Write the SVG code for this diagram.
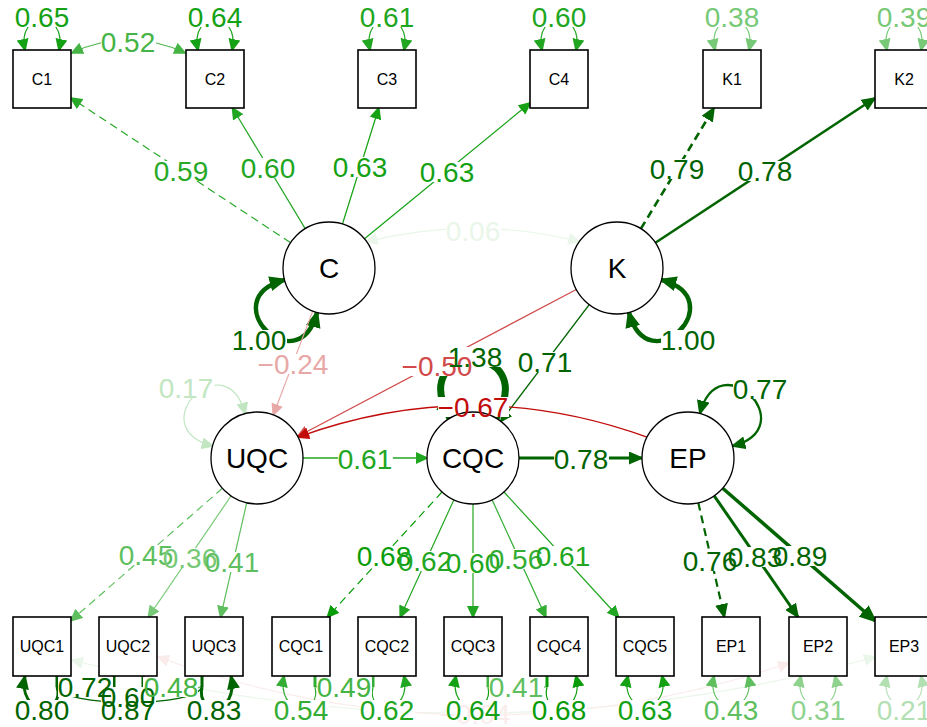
<svg xmlns="http://www.w3.org/2000/svg" width="927" height="727" viewBox="0 0 927 727">
<style>
  .e{fill:none;stroke-width:1.2}
  .d{stroke-dasharray:8,5}
  .bg{fill:#fff}
  .n rect{fill:#fff;stroke:#000;stroke-width:1.6}
  .n circle{fill:#fff;stroke:#000;stroke-width:1.3}
  text{font-family:"Liberation Sans",Arial,Helvetica,sans-serif;text-anchor:middle}
  .bx{font-size:16px;fill:#000}
  .lt{font-size:28px;fill:#000}
  .lb text{font-size:28px}
  .k-dg{stroke:#006400}.f-dg{fill:#006400}
  .k-g68{stroke:#089c08}.f-g68{fill:#089c08}
  .k-g65{stroke:#14a114}.f-g65{fill:#14a114}
  .k-g61{stroke:#21a621}.f-g61{fill:#21a621}
  .k-g59{stroke:#28a928}.f-g59{fill:#28a928}
  .k-g56{stroke:#33ad33}.f-g56{fill:#33ad33}
  .k-g52{stroke:#45b445}.f-g52{fill:#45b445}
  .k-g45{stroke:#5fbf5f}.f-g45{fill:#5fbf5f}
  .k-g38{stroke:#77c977}.f-g38{fill:#77c977}
  .k-g31{stroke:#8ed28e}.f-g31{fill:#8ed28e}
  .k-g21{stroke:#b2e0b2}.f-g21{fill:#b2e0b2}
  .k-g17{stroke:#c1e6c1}.f-g17{fill:#c1e6c1}
  .k-g06{stroke:#e9f6e9}.f-g06{fill:#e9f6e9}
  .k-r67{stroke:#c20b0b}.f-r67{fill:#c20b0b}
  .k-r50{stroke:#d14949}.f-r50{fill:#d14949}
  .k-r24{stroke:#e9a8a8}.f-r24{fill:#e9a8a8}
  .k-r04{stroke:#fbecec}.f-r04{fill:#fbecec}
</style>
<defs>
  <!-- standard arrowheads, one per edge colour -->
  <marker id="s-dg" viewBox="0 0 13 12" refX="11" refY="6" markerWidth="13" markerHeight="12" markerUnits="userSpaceOnUse" orient="auto-start-reverse"><path d="M0,0L13,6L0,12z" class="f-dg"/></marker>
  <marker id="s-g68" viewBox="0 0 13 12" refX="11" refY="6" markerWidth="13" markerHeight="12" markerUnits="userSpaceOnUse" orient="auto-start-reverse"><path d="M0,0L13,6L0,12z" class="f-g68"/></marker>
  <marker id="s-g65" viewBox="0 0 13 12" refX="11" refY="6" markerWidth="13" markerHeight="12" markerUnits="userSpaceOnUse" orient="auto-start-reverse"><path d="M0,0L13,6L0,12z" class="f-g65"/></marker>
  <marker id="s-g61" viewBox="0 0 13 12" refX="11" refY="6" markerWidth="13" markerHeight="12" markerUnits="userSpaceOnUse" orient="auto-start-reverse"><path d="M0,0L13,6L0,12z" class="f-g61"/></marker>
  <marker id="s-g59" viewBox="0 0 13 12" refX="11" refY="6" markerWidth="13" markerHeight="12" markerUnits="userSpaceOnUse" orient="auto-start-reverse"><path d="M0,0L13,6L0,12z" class="f-g59"/></marker>
  <marker id="s-g56" viewBox="0 0 13 12" refX="11" refY="6" markerWidth="13" markerHeight="12" markerUnits="userSpaceOnUse" orient="auto-start-reverse"><path d="M0,0L13,6L0,12z" class="f-g56"/></marker>
  <marker id="s-g52" viewBox="0 0 13 12" refX="11" refY="6" markerWidth="13" markerHeight="12" markerUnits="userSpaceOnUse" orient="auto-start-reverse"><path d="M0,0L13,6L0,12z" class="f-g52"/></marker>
  <marker id="s-g45" viewBox="0 0 13 12" refX="11" refY="6" markerWidth="13" markerHeight="12" markerUnits="userSpaceOnUse" orient="auto-start-reverse"><path d="M0,0L13,6L0,12z" class="f-g45"/></marker>
  <marker id="s-g38" viewBox="0 0 13 12" refX="11" refY="6" markerWidth="13" markerHeight="12" markerUnits="userSpaceOnUse" orient="auto-start-reverse"><path d="M0,0L13,6L0,12z" class="f-g38"/></marker>
  <marker id="s-g31" viewBox="0 0 13 12" refX="11" refY="6" markerWidth="13" markerHeight="12" markerUnits="userSpaceOnUse" orient="auto-start-reverse"><path d="M0,0L13,6L0,12z" class="f-g31"/></marker>
  <marker id="s-g21" viewBox="0 0 13 12" refX="11" refY="6" markerWidth="13" markerHeight="12" markerUnits="userSpaceOnUse" orient="auto-start-reverse"><path d="M0,0L13,6L0,12z" class="f-g21"/></marker>
  <marker id="s-g17" viewBox="0 0 13 12" refX="11" refY="6" markerWidth="13" markerHeight="12" markerUnits="userSpaceOnUse" orient="auto-start-reverse"><path d="M0,0L13,6L0,12z" class="f-g17"/></marker>
  <marker id="s-g06" viewBox="0 0 13 12" refX="11" refY="6" markerWidth="13" markerHeight="12" markerUnits="userSpaceOnUse" orient="auto-start-reverse"><path d="M0,0L13,6L0,12z" class="f-g06"/></marker>
  <marker id="s-r67" viewBox="0 0 13 12" refX="11" refY="6" markerWidth="13" markerHeight="12" markerUnits="userSpaceOnUse" orient="auto-start-reverse"><path d="M0,0L13,6L0,12z" class="f-r67"/></marker>
  <marker id="s-r50" viewBox="0 0 13 12" refX="11" refY="6" markerWidth="13" markerHeight="12" markerUnits="userSpaceOnUse" orient="auto-start-reverse"><path d="M0,0L13,6L0,12z" class="f-r50"/></marker>
  <marker id="s-r24" viewBox="0 0 13 12" refX="11" refY="6" markerWidth="13" markerHeight="12" markerUnits="userSpaceOnUse" orient="auto-start-reverse"><path d="M0,0L13,6L0,12z" class="f-r24"/></marker>
  <marker id="s-r04" viewBox="0 0 13 12" refX="11" refY="6" markerWidth="13" markerHeight="12" markerUnits="userSpaceOnUse" orient="auto-start-reverse"><path d="M0,0L13,6L0,12z" class="f-r04"/></marker>
  <!-- larger heads for the heavy dark-green paths -->
  <marker id="m-dg" viewBox="0 0 15 13" refX="13" refY="6.5" markerWidth="15" markerHeight="13" markerUnits="userSpaceOnUse" orient="auto-start-reverse"><path d="M0,0L15,6.5L0,13z" class="f-dg"/></marker>
  <marker id="l-dg" viewBox="0 0 18 15" refX="15" refY="7.5" markerWidth="18" markerHeight="15" markerUnits="userSpaceOnUse" orient="auto-start-reverse"><path d="M0,0L18,7.5L0,15z" class="f-dg"/></marker>
</defs>

<g id="connectors">
  <!-- faint residual covariances running under the bottom row -->
  <path class="e k-g06" d="M72,660 Q473,768 875,657" marker-start="url(#s-g06)" marker-end="url(#s-g06)"/>
  <path class="e k-r04" d="M158,657 Q473,770 789,663" marker-start="url(#s-r04)" marker-end="url(#s-r04)"/>

  <!-- C indicators -->
  <path class="e d k-g59" d="M290.6,242.7 L71,98" marker-end="url(#s-g59)"/>
  <path class="e k-g61" d="M305.2,228.6 L232.5,108" marker-end="url(#s-g61)"/>
  <path class="e k-g65" d="M342.5,224 L378.7,108" marker-end="url(#s-g65)"/>
  <path class="e k-g65" d="M364.5,238.8 L530,103" marker-end="url(#s-g65)"/>
  <!-- K indicators -->
  <path class="e d k-dg" style="stroke-width:2.6" d="M640.9,228.7 L714,108" marker-end="url(#m-dg)"/>
  <path class="e k-dg" style="stroke-width:2.5" d="M655.4,242.7 L875,98" marker-end="url(#m-dg)"/>
  <!-- C1 with C2 -->
  <path class="e k-g52" d="M72,53 Q128,26 185,53" marker-start="url(#s-g52)" marker-end="url(#s-g52)"/>
  <!-- top residual variances -->
  <path class="e k-g65" d="M25,50 C16,10 68,10 59,50" marker-start="url(#s-g65)" marker-end="url(#s-g65)"/>
  <path class="e k-g65" d="M198,50 C189,10 241,10 232,50" marker-start="url(#s-g65)" marker-end="url(#s-g65)"/>
  <path class="e k-g61" d="M370,50 C361,10 413,10 404,50" marker-start="url(#s-g61)" marker-end="url(#s-g61)"/>
  <path class="e k-g61" d="M542,50 C533,10 585,10 576,50" marker-start="url(#s-g61)" marker-end="url(#s-g61)"/>
  <path class="e k-g38" d="M715,50 C706,10 758,10 749,50" marker-start="url(#s-g38)" marker-end="url(#s-g38)"/>
  <path class="e k-g38" d="M887,50 C878,10 930,10 921,50" marker-start="url(#s-g38)" marker-end="url(#s-g38)"/>

  <!-- latent covariance C with K -->
  <path class="e k-g06" d="M366.7,241.6 Q473,215 579.3,241.6" marker-start="url(#s-g06)" marker-end="url(#s-g06)"/>
  <!-- latent variances -->
  <path class="e k-dg" style="stroke-width:4.5" d="M284.6,279.9 C212.1,299.3 297.6,384.9 317.1,312.4" marker-start="url(#l-dg)" marker-end="url(#l-dg)"/>
  <path class="e k-dg" style="stroke-width:4.5" d="M628.9,312.4 C648.3,384.9 733.9,299.3 661.4,279.9" marker-start="url(#l-dg)" marker-end="url(#l-dg)"/>
  <path class="e k-dg" style="stroke-width:7" d="M450,418.2 C405,340.2 541,340.2 496,418.2" marker-start="url(#l-dg)" marker-end="url(#l-dg)"/>
  <path class="e k-g17" d="M245.1,413.6 C225.7,341.2 140.2,426.7 212.6,446.1" marker-start="url(#s-g17)" marker-end="url(#s-g17)"/>
  <path class="e k-dg" style="stroke-width:2.3" d="M699.9,413.6 C719.3,341.2 804.9,426.7 732.4,446.1" marker-start="url(#m-dg)" marker-end="url(#m-dg)"/>

  <!-- structural paths -->
  <path class="e k-r24" d="M312.7,311.1 L273.3,415" marker-end="url(#s-r24)"/>
  <path class="e k-r50" d="M576.3,289.5 L297.7,436.5" marker-end="url(#s-r50)"/>
  <path class="e k-dg" style="stroke-width:1.4" d="M589.2,304.7 L500.8,421.3" marker-end="url(#s-dg)"/>
  <path class="e k-r67" style="stroke-width:1.4" d="M647,437.1 Q472.5,374 298,437.1" marker-end="url(#s-r67)"/>
  <path class="e k-g61" style="stroke-width:1.3" d="M303,458 L427,458" marker-end="url(#s-g61)"/>
  <path class="e k-dg" style="stroke-width:3" d="M519,458 L642,458" marker-end="url(#m-dg)"/>

  <!-- UQC indicators -->
  <path class="e d k-g45" d="M222.4,488.3 L71,620.6" marker-end="url(#s-g45)"/>
  <path class="e k-g38" d="M231,496 L148.4,617" marker-end="url(#s-g38)"/>
  <path class="e k-g45" d="M246.7,502.8 L220.6,617" marker-end="url(#s-g45)"/>
  <!-- CQC indicators -->
  <path class="e d k-g68" d="M442,492 L327.5,617" marker-end="url(#s-g68)"/>
  <path class="e k-g61" d="M453.9,499.8 L400.2,617" marker-end="url(#s-g61)"/>
  <path class="e k-g61" d="M473,504 L473,617" marker-end="url(#s-g61)"/>
  <path class="e k-g56" d="M492.1,499.8 L545.8,617" marker-end="url(#s-g56)"/>
  <path class="e k-g61" d="M504,492 L618.5,617" marker-end="url(#s-g61)"/>
  <!-- EP indicators -->
  <path class="e d k-dg" style="stroke-width:2.2" d="M698.3,502.8 L724.4,617" marker-end="url(#m-dg)"/>
  <path class="e k-dg" style="stroke-width:3" d="M714.2,495.8 L798,617" marker-end="url(#m-dg)"/>
  <path class="e k-dg" style="stroke-width:3.5" d="M722.7,488.2 L875,620.8" marker-end="url(#l-dg)"/>

  <!-- residual covariances among bottom indicators -->
  <path class="e k-dg" style="stroke-width:1.5" d="M57,686 Q85,702 114,686"/>
  <path class="e k-dg" style="stroke-width:1.5" d="M57,686 C60,708 199,708 202,686"/>
  <path class="e k-g52" d="M143,686 Q172,702 202,686"/>
  <path class="e k-g52" d="M315,686 Q344,702 373,686"/>
  <path class="e k-g45" d="M488,686 Q517,702 547,686"/>
  <g class="e" style="stroke-width:3">
    <path class="k-dg" d="M57,676V687M114,676V687M143,676V687M202,676V687"/>
    <path class="k-g56" d="M315,676V687M373,676V687"/>
    <path class="k-g52" d="M488,676V687"/>
    <path class="k-g68" d="M547,676V687"/>
  </g>
  <!-- bottom residual variances -->
  <path class="e k-dg" style="stroke-width:2.8" d="M25,676 C17,716 65,716 57,687" marker-start="url(#m-dg)"/>
  <path class="e k-dg" style="stroke-width:3" d="M114,687 C108,716 149,716 143,687"/>
  <path class="e k-dg" style="stroke-width:3" d="M202,687 C196,716 239,716 231,676" marker-end="url(#m-dg)"/>
  <path class="e k-g56" d="M284,676 C276,716 322,716 315,687" marker-start="url(#s-g56)"/>
  <path class="e k-g61" d="M373,687 C366,716 412,716 404,676" marker-end="url(#s-g61)"/>
  <path class="e k-g65" d="M456,676 C448,716 494,716 488,687" marker-start="url(#s-g65)"/>
  <path class="e k-g68" d="M547,687 C540,716 585,716 576,676" marker-end="url(#s-g68)"/>
  <path class="e k-g65" d="M628,676 C619,716 671,716 662,676" marker-start="url(#s-g65)" marker-end="url(#s-g65)"/>
  <path class="e k-g45" d="M714,676 C705,716 757,716 748,676" marker-start="url(#s-g45)" marker-end="url(#s-g45)"/>
  <path class="e k-g31" d="M801,676 C792,716 844,716 835,676" marker-start="url(#s-g31)" marker-end="url(#s-g31)"/>
  <path class="e k-g21" d="M887,676 C878,716 930,716 921,676" marker-start="url(#s-g21)" marker-end="url(#s-g21)"/>
</g>

<!-- white backing behind the edge labels -->
<g id="label-backing" class="bg">
  <rect x="15" y="7" width="55" height="20"/><rect x="188" y="7" width="55" height="20"/>
  <rect x="360" y="7" width="55" height="20"/><rect x="532" y="7" width="55" height="20"/>
  <rect x="705" y="7" width="55" height="20"/><rect x="877" y="7" width="55" height="20"/>
  <rect x="101" y="32" width="55" height="20"/>
  <rect x="154" y="161" width="55" height="20"/><rect x="241" y="158" width="55" height="20"/>
  <rect x="333" y="157" width="55" height="20"/><rect x="420" y="162" width="55" height="20"/>
  <rect x="650" y="159" width="55" height="20"/><rect x="738" y="161" width="55" height="20"/>
  <rect x="446" y="221" width="55" height="20"/>
  <rect x="232" y="330" width="55" height="20"/><rect x="661" y="330" width="55" height="20"/>
  <rect x="258" y="354" width="71" height="20"/><rect x="402" y="356" width="71" height="20"/>
  <rect x="448" y="347" width="55" height="20"/><rect x="518" y="352" width="55" height="20"/>
  <rect x="159" y="378" width="55" height="20"/><rect x="733" y="379" width="55" height="20"/>
  <rect x="438" y="397" width="71" height="20"/>
  <rect x="338" y="449" width="55" height="20"/><rect x="554" y="449" width="55" height="20"/>
  <rect x="119" y="545" width="55" height="20"/><rect x="163" y="548" width="55" height="20"/>
  <rect x="205" y="552" width="55" height="20"/>
  <rect x="357" y="546" width="55" height="20"/><rect x="398" y="551" width="55" height="20"/>
  <rect x="446" y="553" width="55" height="20"/><rect x="489" y="549" width="55" height="20"/>
  <rect x="536" y="546" width="55" height="20"/>
  <rect x="683" y="551" width="55" height="20"/><rect x="728" y="547" width="55" height="20"/>
  <rect x="773" y="546" width="55" height="20"/>
  <rect x="58" y="677" width="55" height="20"/><rect x="101" y="687" width="55" height="20"/>
  <rect x="143" y="677" width="55" height="20"/><rect x="317" y="677" width="55" height="20"/>
  <rect x="489" y="677" width="55" height="20"/>
  <rect x="15" y="700" width="55" height="20"/><rect x="101" y="700" width="55" height="20"/>
  <rect x="187" y="700" width="55" height="20"/><rect x="274" y="700" width="55" height="20"/>
  <rect x="360" y="700" width="55" height="20"/><rect x="446" y="700" width="55" height="20"/>
  <rect x="532" y="700" width="55" height="20"/><rect x="618" y="700" width="55" height="20"/>
  <rect x="704" y="700" width="55" height="20"/><rect x="791" y="700" width="55" height="20"/>
  <rect x="877" y="700" width="55" height="20"/>
</g>

<!-- observed indicators -->
<g id="C1" class="n"><rect x="13" y="50" width="58" height="58"/><text class="bx" x="42" y="85">C1</text></g>
<g id="C2" class="n"><rect x="186" y="50" width="58" height="58"/><text class="bx" x="215" y="85">C2</text></g>
<g id="C3" class="n"><rect x="358" y="50" width="58" height="58"/><text class="bx" x="387" y="85">C3</text></g>
<g id="C4" class="n"><rect x="530" y="50" width="58" height="58"/><text class="bx" x="559" y="85">C4</text></g>
<g id="K1" class="n"><rect x="703" y="50" width="58" height="58"/><text class="bx" x="732" y="85">K1</text></g>
<g id="K2" class="n"><rect x="875" y="50" width="58" height="58"/><text class="bx" x="904" y="85">K2</text></g>
<g id="UQC1" class="n"><rect x="13" y="617" width="58" height="59"/><text class="bx" x="42" y="652">UQC1</text></g>
<g id="UQC2" class="n"><rect x="99" y="617" width="58" height="59"/><text class="bx" x="128" y="652">UQC2</text></g>
<g id="UQC3" class="n"><rect x="185" y="617" width="58" height="59"/><text class="bx" x="214" y="652">UQC3</text></g>
<g id="CQC1" class="n"><rect x="272" y="617" width="58" height="59"/><text class="bx" x="301" y="652">CQC1</text></g>
<g id="CQC2" class="n"><rect x="358" y="617" width="58" height="59"/><text class="bx" x="387" y="652">CQC2</text></g>
<g id="CQC3" class="n"><rect x="444" y="617" width="58" height="59"/><text class="bx" x="473" y="652">CQC3</text></g>
<g id="CQC4" class="n"><rect x="530" y="617" width="58" height="59"/><text class="bx" x="559" y="652">CQC4</text></g>
<g id="CQC5" class="n"><rect x="616" y="617" width="58" height="59"/><text class="bx" x="645" y="652">CQC5</text></g>
<g id="EP1" class="n"><rect x="702" y="617" width="58" height="59"/><text class="bx" x="731" y="652">EP1</text></g>
<g id="EP2" class="n"><rect x="789" y="617" width="58" height="59"/><text class="bx" x="818" y="652">EP2</text></g>
<g id="EP3" class="n"><rect x="875" y="617" width="58" height="59"/><text class="bx" x="904" y="652">EP3</text></g>

<!-- latent factors -->
<g id="C" class="n"><circle cx="329" cy="268" r="46"/><text class="lt" x="329" y="278">C</text></g>
<g id="K" class="n"><circle cx="617" cy="268" r="46"/><text class="lt" x="617" y="278">K</text></g>
<g id="UQC" class="n"><circle cx="257" cy="458" r="46"/><text class="lt" x="257" y="468">UQC</text></g>
<g id="CQC" class="n"><circle cx="473" cy="458" r="46"/><text class="lt" x="473" y="468">CQC</text></g>
<g id="EP" class="n"><circle cx="688" cy="458" r="46"/><text class="lt" x="688" y="468">EP</text></g>

<!-- edge labels -->
<g id="labels" class="lb">
  <text class="f-g65" x="42" y="27">0.65</text>
  <text class="f-g65" x="215" y="27">0.64</text>
  <text class="f-g61" x="387" y="27">0.61</text>
  <text class="f-g61" x="559" y="27">0.60</text>
  <text class="f-g38" x="732" y="27">0.38</text>
  <text class="f-g38" x="904" y="27">0.39</text>
  <text class="f-g52" x="128" y="52">0.52</text>
  <text class="f-g59" x="181" y="181">0.59</text>
  <text class="f-g61" x="268" y="178">0.60</text>
  <text class="f-g65" x="360" y="177">0.63</text>
  <text class="f-g65" x="447" y="182">0.63</text>
  <text class="f-dg" x="677" y="179">0.79</text>
  <text class="f-dg" x="765" y="181">0.78</text>
  <text class="f-g06" x="473" y="241">0.06</text>
  <text class="f-dg" x="259" y="350">1.00</text>
  <text class="f-dg" x="688" y="350">1.00</text>
  <text class="f-r24" x="293" y="374">−0.24</text>
  <text class="f-r50" x="437" y="376">−0.50</text>
  <text class="f-dg" x="475" y="367">1.38</text>
  <text class="f-dg" x="545" y="372">0.71</text>
  <text class="f-g17" x="186" y="398">0.17</text>
  <text class="f-dg" x="760" y="399">0.77</text>
  <text class="f-r67" x="473" y="417">−0.67</text>
  <text class="f-g61" x="365" y="469">0.61</text>
  <text class="f-dg" x="581" y="469">0.78</text>
  <text class="f-g45" x="146" y="565">0.45</text>
  <text class="f-g38" x="190" y="568">0.36</text>
  <text class="f-g45" x="232" y="572">0.41</text>
  <text class="f-g68" x="384" y="566">0.68</text>
  <text class="f-g61" x="425" y="571">0.62</text>
  <text class="f-g61" x="473" y="573">0.60</text>
  <text class="f-g56" x="516" y="569">0.56</text>
  <text class="f-g61" x="563" y="566">0.61</text>
  <text class="f-dg" x="710" y="571">0.76</text>
  <text class="f-dg" x="755" y="567">0.83</text>
  <text class="f-dg" x="800" y="566">0.89</text>
  <text class="f-r04" x="475" y="724">−0.04</text>
  <text class="f-dg" x="85" y="697">0.72</text>
  <text class="f-dg" x="128" y="707">0.60</text>
  <text class="f-g52" x="171" y="697">0.48</text>
  <text class="f-g52" x="344" y="697">0.49</text>
  <text class="f-g45" x="516" y="697">0.41</text>
  <text class="f-dg" x="42" y="720">0.80</text>
  <text class="f-dg" x="128" y="720">0.87</text>
  <text class="f-dg" x="214" y="720">0.83</text>
  <text class="f-g56" x="301" y="720">0.54</text>
  <text class="f-g61" x="387" y="720">0.62</text>
  <text class="f-g65" x="473" y="720">0.64</text>
  <text class="f-g68" x="559" y="720">0.68</text>
  <text class="f-g65" x="645" y="720">0.63</text>
  <text class="f-g45" x="731" y="720">0.43</text>
  <text class="f-g31" x="818" y="720">0.31</text>
  <text class="f-g21" x="904" y="720">0.21</text>
</g>
</svg>
